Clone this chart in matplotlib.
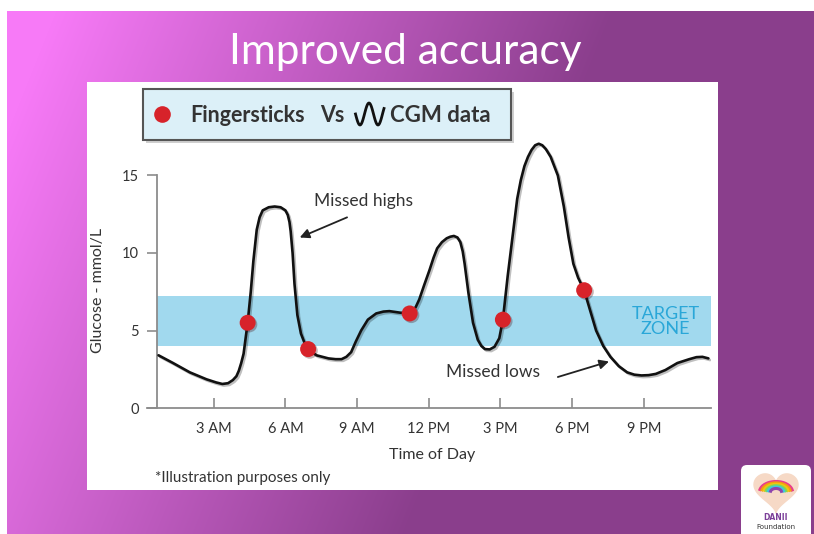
import numpy as np
import matplotlib
matplotlib.use("Agg")
import matplotlib.pyplot as plt
import matplotlib.patheffects as pe
from matplotlib.patches import Rectangle, FancyBboxPatch

# CGM curve (hour of day, mmol/L)
cgm_hours = [0.69, 1.3, 2.0, 2.7, 3.1, 3.36, 3.6, 3.8, 3.95, 4.05, 4.15, 4.25, 4.42,
             4.55, 4.66, 4.8, 4.92, 5.05, 5.3, 5.55, 5.8, 6.0, 6.1, 6.17, 6.22, 6.3,
             6.38, 6.5, 6.65, 6.8, 6.95, 7.3, 7.8, 8.1, 8.35, 8.55, 8.75, 8.95, 9.17,
             9.45, 9.8, 10.1, 10.35, 10.8, 11.2, 11.45, 11.6, 11.8, 12.03, 12.2, 12.35,
             12.55, 12.75, 12.9, 13.05, 13.2, 13.32, 13.42, 13.5, 13.66, 13.85, 14.05,
             14.2, 14.35, 14.55, 14.75, 14.95, 15.1, 15.3, 15.5, 15.7, 15.85, 16.0,
             16.15, 16.3, 16.45, 16.6, 16.75, 16.9, 17.1, 17.4, 17.65, 17.85, 18.05,
             18.25, 18.5, 18.75, 19.0, 19.3, 19.6, 19.95, 20.3, 20.6, 20.9, 21.2, 21.5,
             21.9, 22.4, 22.9, 23.2, 23.45, 23.7]
cgm_glucose = [3.4, 2.9, 2.3, 1.85, 1.65, 1.55, 1.6, 1.8, 2.05, 2.4, 2.9, 3.5, 5.5,
               7.5, 9.5, 11.5, 12.3, 12.75, 12.95, 13.0, 12.95, 12.75, 12.45, 12.0, 11.4, 10.0,
               8.0, 6.0, 4.8, 4.2, 3.8, 3.4, 3.2, 3.15, 3.15, 3.3, 3.6, 4.3, 5.0,
               5.7, 6.1, 6.22, 6.25, 6.15, 6.1, 6.5, 7.0, 7.9, 8.9, 9.7, 10.3,
               10.7, 10.95, 11.05, 11.1, 11.0, 10.7, 10.1, 9.3, 7.4, 5.5, 4.4,
               4.0, 3.8, 3.78, 3.95, 4.5, 5.7, 8.5, 11.0, 13.5, 14.7, 15.6,
               16.2, 16.65, 16.95, 17.05, 16.95, 16.7, 16.2, 15.0, 13.0, 11.0, 9.3,
               8.4, 7.6, 6.3, 5.0, 4.0, 3.3, 2.7, 2.3, 2.15, 2.1, 2.12, 2.2,
               2.45, 2.9, 3.15, 3.28, 3.3, 3.2]

# fingerstick readings
stick_hours = [4.42, 6.95, 11.2, 15.1, 18.5]
stick_glucose = [5.5, 3.8, 6.1, 5.7, 7.6]

target_low, target_high = 4.0, 7.2
tick_hours = [3, 6, 9, 12, 15, 18, 21]
tick_labels = ["3 AM", "6 AM", "9 AM", "12 PM", "3 PM", "6 PM", "9 PM"]
y_ticks = [0, 5, 10, 15]

W, H = 814, 534
fig = plt.figure(figsize=(W / 100, H / 100), dpi=100)
plt.rcParams['font.family'] = ['Lato', 'DejaVu Sans']

# slide background
bg_ax = fig.add_axes([0, 0, 1, 1], zorder=0)
xx, yy = np.meshgrid(np.arange(W), np.arange(H))
t = np.clip((xx + 0.4 * yy - 60) / 560.0, 0, 1)[..., None]
pink = np.array([0xf7, 0x7a, 0xf7]) / 255.0
purple = np.array([0x8a, 0x3e, 0x8c]) / 255.0
img = pink * (1 - t) + purple * t
img[:11, :, :] = 1.0
img[:, :7, :] = 1.0
bg_ax.imshow(img, extent=[0, W, H, 0], aspect='auto')
bg_ax.set_xlim(0, W)
bg_ax.set_ylim(H, 0)
bg_ax.axis('off')

# white panel
bg_ax.add_patch(Rectangle((87, 82), 631, 408, facecolor='white', edgecolor='none'))

bg_ax.text(405, 52, "Improved accuracy", ha='center', va='center',
           fontsize=30.5, color='white')

# chart
ax = fig.add_axes([146.8 / W, 1 - 408 / H, 564 / W, 279 / H], zorder=2)
ax.patch.set_alpha(0)
ax.set_xlim(0.2, 23.8)
ax.set_ylim(0, 18)

ax.add_patch(Rectangle((0.63, target_low), 23.8 - 0.63, target_high - target_low,
                       facecolor='#a1d9ee', edgecolor='none', zorder=1))
ax.text(21.9, (target_low + target_high) / 2, "TARGET\nZONE", ha='center', va='center',
        color='#2aa7d8', fontsize=13, linespacing=0.95, zorder=2)

ax.plot(cgm_hours, cgm_glucose, color='#111111', lw=1.9, solid_joinstyle='round',
        solid_capstyle='round', zorder=3,
        path_effects=[pe.SimpleLineShadow(offset=(1.2, -1.2), alpha=0.25), pe.Normal()])
ax.plot(stick_hours, stick_glucose, 'o', color='#d7232a', markersize=11.5,
        markeredgewidth=0, zorder=4,
        path_effects=[pe.SimplePatchShadow(offset=(1.2, -1.2), alpha=0.3), pe.Normal()])

arrow = dict(arrowstyle='-|>', color='#222222', lw=1.3, mutation_scale=14,
             shrinkA=0, shrinkB=0)
ax.annotate("", xy=(6.6, 11.0), xytext=(8.58, 12.3), arrowprops=arrow)
ax.text(9.25, 13.35, "Missed highs", ha='center', va='center', fontsize=12.5, color='#333333')
ax.annotate("", xy=(19.54, 3.0), xytext=(17.4, 2.0), arrowprops=arrow)
ax.text(14.67, 2.3, "Missed lows", ha='center', va='center', fontsize=12.5, color='#333333')

for s in ['top', 'right']:
    ax.spines[s].set_visible(False)
ax.spines['left'].set_position(('data', 0.63))
ax.spines['left'].set_bounds(0, 15)
for s in ['left', 'bottom']:
    ax.spines[s].set_color('#8c8c8c')
    ax.spines[s].set_linewidth(1.3)
ax.set_xticks(tick_hours)
ax.set_xticklabels(tick_labels)
ax.set_yticks(y_ticks)
ax.tick_params(axis='x', direction='in', length=7, width=1.2, color='#8c8c8c',
               labelsize=10.5, labelcolor='#333333', pad=10)
ax.tick_params(axis='y', direction='out', length=7, width=1.2, color='#8c8c8c',
               labelsize=10.5, labelcolor='#333333', pad=6)

bg_ax.text(432, 455, "Time of Day", ha='center', va='center',
           fontsize=11.5, color='#333333')
bg_ax.text(98, 290, "Glucose - mmol/L", ha='center', va='center',
           rotation=90, fontsize=11.5, color='#333333')
bg_ax.text(155, 478, "*Illustration purposes only", ha='left', va='center',
           fontsize=11, color='#333333')

# legend box (on its own axes, pixel coordinates)
leg_ax = fig.add_axes([0, 0, 1, 1], zorder=5)
leg_ax.set_xlim(0, W)
leg_ax.set_ylim(H, 0)
leg_ax.axis('off')
leg_ax.add_patch(Rectangle((146, 92), 368, 51, facecolor='#00000030', edgecolor='none'))
leg_ax.add_patch(Rectangle((143, 89), 368, 51, facecolor='#dcf0f8',
                           edgecolor='#555555', lw=1.5))
leg_ax.plot([162], [114], 'o', color='#d7232a', markersize=12, markeredgewidth=0)
leg_ax.text(190, 115, "Fingersticks", ha='left', va='center', fontsize=15.5,
            fontweight='bold', color='#333333')
leg_ax.text(320, 115, "Vs", ha='left', va='center', fontsize=15.5,
            fontweight='bold', color='#333333')
leg_ax.text(390, 115, "CGM data", ha='left', va='center', fontsize=16,
            fontweight='bold', color='#333333')
wave_t = np.linspace(0.05, 1.0, 60)
leg_ax.plot(354 + 30 * wave_t, 114 + 11 * np.cos(2 * np.pi * (wave_t - 0.2) / 0.6),
            color='#111111', lw=2)

# logo
leg_ax.add_patch(FancyBboxPatch((741, 465), 70, 80,
                                boxstyle='round,pad=0,rounding_size=6',
                                facecolor='white', edgecolor='none'))
th = np.linspace(0, 2 * np.pi, 200)
hx = 776 + 22 * np.sin(th) ** 3
hy = 490 - 1.35 * (13 * np.cos(th) - 5 * np.cos(2 * th) - 2 * np.cos(3 * th) - np.cos(4 * th))
leg_ax.fill(hx, hy, color='#f6d9c6')
for i, c in enumerate(['#e83e8c', '#f39c12', '#f1c40f', '#7ed957', '#3ec6e0', '#8e44ad']):
    a = np.linspace(0.2, 2.9, 50)
    r = 15 - i * 2
    leg_ax.plot(776 + r * np.cos(a) * 1.1, 492 - r * np.sin(a) * 0.7, color=c, lw=2.2)
leg_ax.text(776, 518, "DANII", ha='center', va='center', fontsize=5.5,
            fontweight='bold', color='#7b3f98', family='DejaVu Sans')
leg_ax.text(776, 527, "Foundation", ha='center', va='center', fontsize=5,
            color='#333333', family='DejaVu Sans')

fig.savefig("out.png", dpi=100)
